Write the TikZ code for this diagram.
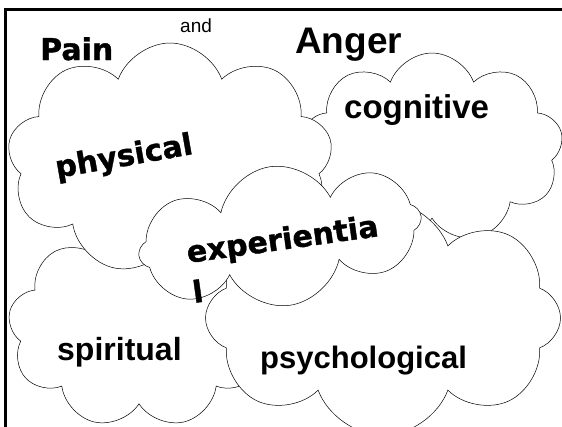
\documentclass[tikz,border=0pt]{standalone}
\usepackage{fontspec}
\usetikzlibrary{shapes.symbols}
\newfontfamily\tahfont[BoldFeatures={FakeBold=1.2}]{DejaVu Sans}
\newfontfamily\arlfont{Liberation Sans}
\begin{document}
\begin{tikzpicture}[x=1pt,y=-1pt]
\tikzstyle{puff} = [cloud, cloud puffs=9, cloud puff arc=140, cloud ignores aspect, draw=black, line width=0.5pt, fill=white, inner sep=0pt]
\tikzstyle{tah}  = [inner sep=0pt, anchor=base west, font=\tahfont\bfseries\fontsize{30}{36}\selectfont]
\tikzstyle{arl}  = [inner sep=0pt, anchor=base west, font=\arlfont\bfseries\fontsize{32}{38}\selectfont]
\useasboundingbox (0,0) rectangle (562,426);
\draw[line width=2.2pt] (5.5,430) -- (5.5,9.5) -- (566,9.5);
% clouds, back to front
\node[puff, minimum width=262pt, minimum height=190pt] at (432,148) (cl_cogn) {};
\node[puff, minimum width=262pt, minimum height=200pt] at (139,328) (cl_spir) {};
\node[puff, minimum width=325pt, minimum height=232pt] at (170,159) (cl_phys) {};
\node[puff, cloud puffs=8, minimum width=355pt, minimum height=235pt] at (383,318) (cl_psyc) {};
\node[puff, cloud puffs=8, minimum width=285pt, minimum height=140pt, rotate=8] at (280,236) (cl_expe) {};
% labels
\node[tah] at (40,60) (t_pain) {Pain};
\node[inner sep=0pt, anchor=base west, font=\arlfont\fontsize{19}{22}\selectfont] at (180,32) (t_and) {and};
\node[arl, font=\arlfont\bfseries\fontsize{37}{44}\selectfont] at (295,53) (t_anger) {Anger};
\node[arl, font=\arlfont\bfseries\fontsize{33}{40}\selectfont] at (344,118) (t_cogn) {cognitive};
\node[tah, rotate=10] at (57,178) (t_phys) {physical};
\node[tah, rotate=8] at (188,263) (t_expe) {experientia};
\node[tah, rotate=8] at (194,303) (t_expl) {l};
\node[arl] at (57,360) (t_spir) {spiritual};
\node[arl, font=\arlfont\bfseries\fontsize{31}{37}\selectfont] at (260,368) (t_psyc) {psychological};
\end{tikzpicture}
\end{document}
